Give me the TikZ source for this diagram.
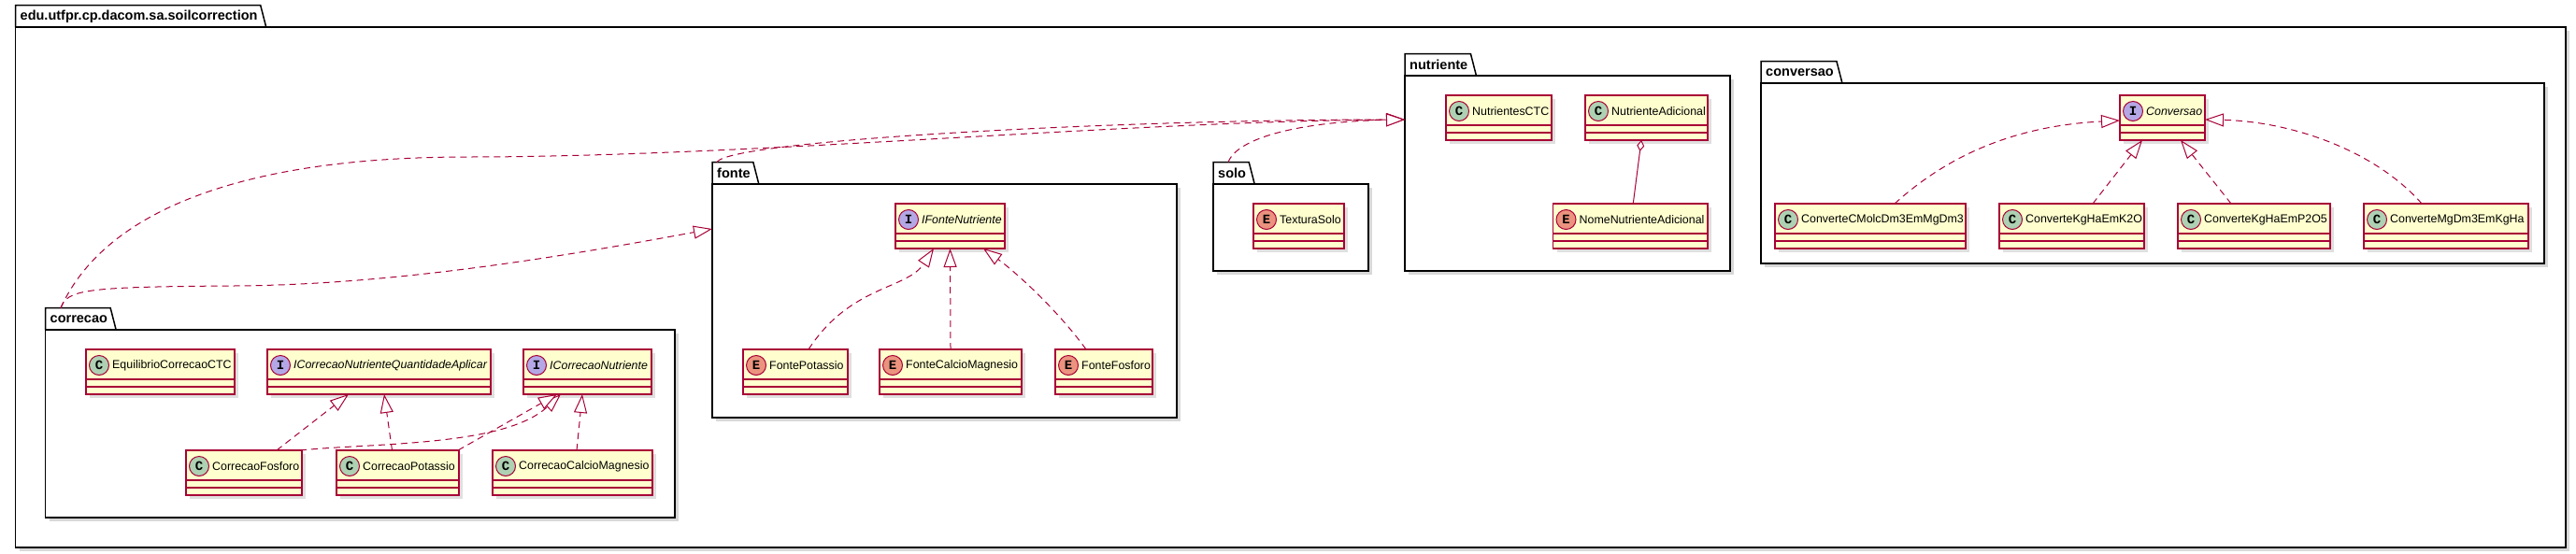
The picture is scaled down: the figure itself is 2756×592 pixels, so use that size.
\documentclass[tikz,border=0pt]{standalone}
\usepackage{fontspec}
\setmainfont{Liberation Sans}
\newfontfamily\iconfont{Liberation Mono}
\usetikzlibrary{arrows.meta,shadows}

\definecolor{umlred}{HTML}{A80036}
\definecolor{umlfill}{HTML}{FEFECE}
\definecolor{clsicon}{HTML}{ADD1B2}
\definecolor{intficon}{HTML}{B4A7E5}
\definecolor{enumicon}{HTML}{EB937F}

\tikzset{
  pkgbody/.style={draw=black, line width=1.5pt, fill=white, inner sep=0pt, outer sep=0pt,
    drop shadow={shadow xshift=4pt, shadow yshift=-4pt, opacity=0.3}},
  pkgframe/.style={draw=black, line width=1.5pt},
  pkglabel/.style={font=\fontsize{14.5}{16}\selectfont\bfseries, inner sep=0pt, minimum height=23pt},
  clsbox/.style={draw=umlred, line width=1.5pt, fill=umlfill, minimum height=48pt, inner sep=0pt, outer sep=0pt,
    drop shadow={shadow xshift=4pt, shadow yshift=-4pt, opacity=0.25}},
  clsrule/.style={umlred, line width=1.5pt},
  icon/.style={circle, draw=umlred, line width=1pt, minimum size=21pt, inner sep=0pt,
    font=\iconfont\bfseries\fontsize{14}{14}\selectfont},
  clslabel/.style={font=\fontsize{12.4}{14}\selectfont, inner sep=0pt},
  realize/.style={umlred, line width=1pt, dash pattern=on 7pt off 5pt,
    -{Triangle[length=20pt, width=14pt, fill=white]}},
  aggr/.style={umlred, line width=1pt, {Diamond[length=12pt, width=8pt, fill=white]}-},
}

% package: name, label, left, top of body, width, height
\newcommand{\umlpackage}[6]{%
  \node[pkgbody, minimum width=#5, minimum height=#6, anchor=north west] (#1) at (#3,#4) {};
  \node[pkglabel, anchor=south west] (#1-tab) at ([xshift=5]#1.north west) {#2};
  \draw[pkgframe] (#1.north west) -- (#1.north west |- #1-tab.north) -- ([xshift=3]#1-tab.north east)
    -- ([xshift=9]#1-tab.east |- #1.north);
}

% class box: name, letter, icon colour, label, left, top, width
\newcommand{\umlclass}[7]{%
  \node[clsbox, minimum width=#7, anchor=north west] (#1) at (#5,#6) {};
  \draw[clsrule] ([yshift=-32]#1.north west) -- ([yshift=-32]#1.north east);
  \draw[clsrule] ([yshift=-40]#1.north west) -- ([yshift=-40]#1.north east);
  \node[icon, fill=#3] (#1-icon) at ([xshift=14,yshift=-17]#1.north west) {#2};
  \node[clslabel, anchor=west] at ([xshift=3]#1-icon.east) {#4};
}

\begin{document}
\begin{tikzpicture}[x=1pt, y=-1pt]
 \useasboundingbox (0,0) rectangle (2756,592);

 % packages
 \umlpackage{soilcorrection}{edu.utfpr.cp.dacom.sa.soilcorrection}{16.5}{29}{2728.5}{557}
 \umlpackage{correcao}{correcao}{48.5}{353}{673.5}{201}
 \umlpackage{fonte}{fonte}{762}{197}{497}{250}
 \umlpackage{solo}{solo}{1298}{197}{166}{93}
 \umlpackage{nutriente}{nutriente}{1503}{81}{348}{209}
 \umlpackage{conversao}{conversao}{1884}{89}{838}{193}

 % correcao
 \umlclass{EquilibrioCTC}{C}{clsicon}{EquilibrioCorrecaoCTC}{92}{374}{159}
 \umlclass{ICorrQtd}{I}{intficon}{\itshape ICorrecaoNutrienteQuantidadeAplicar}{286}{374}{239}
 \umlclass{ICorrNut}{I}{intficon}{\itshape ICorrecaoNutriente}{560}{374}{137}
 \umlclass{CorrFosforo}{C}{clsicon}{CorrecaoFosforo}{199}{482}{124}
 \umlclass{CorrPotassio}{C}{clsicon}{CorrecaoPotassio}{360}{482}{131}
 \umlclass{CorrCalcioMg}{C}{clsicon}{CorrecaoCalcioMagnesio}{527}{482}{171}

 % fonte
 \umlclass{IFonteNut}{I}{intficon}{\itshape IFonteNutriente}{958}{218}{117}
 \umlclass{FontePotassio}{E}{enumicon}{FontePotassio}{795}{374}{112}
 \umlclass{FonteCalcioMg}{E}{enumicon}{FonteCalcioMagnesio}{941}{374}{152}
 \umlclass{FonteFosforo}{E}{enumicon}{FonteFosforo}{1129}{374}{104}

 % solo
 \umlclass{TexturaSolo}{E}{enumicon}{TexturaSolo}{1341}{218}{97}

 % nutriente
 \umlclass{NutCTC}{C}{clsicon}{NutrientesCTC}{1547}{102}{113}
 \umlclass{NutAdicional}{C}{clsicon}{NutrienteAdicional}{1696}{102}{131}
 \umlclass{NomeNutAdicional}{E}{enumicon}{NomeNutrienteAdicional}{1661.5}{218}{165.5}

 % conversao
 \umlclass{Conversao}{I}{intficon}{\itshape Conversao}{2268}{102}{91}
 \umlclass{ConvCMolc}{C}{clsicon}{ConverteCMolcDm3EmMgDm3}{1899}{218}{204}
 \umlclass{ConvK2O}{C}{clsicon}{ConverteKgHaEmK2O}{2139}{218}{155}
 \umlclass{ConvP2O5}{C}{clsicon}{ConverteKgHaEmP2O5}{2330}{218}{163}
 \umlclass{ConvMgDm3}{C}{clsicon}{ConverteMgDm3EmKgHa}{2529}{218}{176}

 % between packages
 \draw[realize] ([xshift=11.5]correcao-tab.north west) .. controls (110,230) and (250,168) .. (500,168)
   .. controls (800,168) and (1200,130) .. ([yshift=-47]nutriente.north west);
 \draw[realize] ([xshift=11.5]correcao-tab.north west) .. controls (72,310) and (90,307) .. (250,306)
   .. controls (420,305) and (600,275) .. ([yshift=-48]fonte.north west);
 \draw[realize] (fonte-tab.north west) .. controls (780,150) and (1200,128) .. ([yshift=-47]nutriente.north west);
 \draw[realize] ([xshift=11]solo-tab.north west) .. controls (1325,145) and (1400,130) .. ([yshift=-47]nutriente.north west);

 % inside correcao
 \draw[realize] ([xshift=35]CorrFosforo.north) -- ([xshift=-32.5]ICorrQtd.south);
 \draw[realize] ([xshift=-6]CorrPotassio.north) -- ([xshift=5.5]ICorrQtd.south);
 \draw[realize] ([xshift=-2]CorrFosforo.north east) .. controls (400,474) and (540,478) .. ([xshift=-28.5]ICorrNut.south);
 \draw[realize] ([xshift=-1]CorrPotassio.north east) -- ([xshift=-32.5]ICorrNut.south);
 \draw[realize] ([xshift=4.5]CorrCalcioMg.north) -- ([xshift=-5.5]ICorrNut.south);

 % inside fonte
 \draw[realize] ([xshift=14]FontePotassio.north) .. controls (910,305) and (970,310) .. ([xshift=-17.5]IFonteNut.south);
 \draw[realize] (FonteCalcioMg.north) -- (IFonteNut.south);
 \draw[realize] ([xshift=-19]FonteFosforo.north) .. controls (1130,330) and (1085,290) .. ([xshift=35.5]IFonteNut.south);

 % inside nutriente
 \draw[aggr] ([xshift=-5.5]NutAdicional.south) -- ([xshift=3]NomeNutAdicional.north);

 % inside conversao
 \draw[realize] ([xshift=26]ConvCMolc.north) .. controls (2080,170) and (2150,135) .. ([yshift=-3]Conversao.west);
 \draw[realize] ([xshift=22.5]ConvK2O.north) -- ([xshift=-21.5]Conversao.south);
 \draw[realize] ([xshift=-24.5]ConvP2O5.north) -- ([xshift=19.5]Conversao.south);
 \draw[realize] ([xshift=-26]ConvMgDm3.north) .. controls (2540,160) and (2450,130) .. ([yshift=-2]Conversao.east);
\end{tikzpicture}
\end{document}
